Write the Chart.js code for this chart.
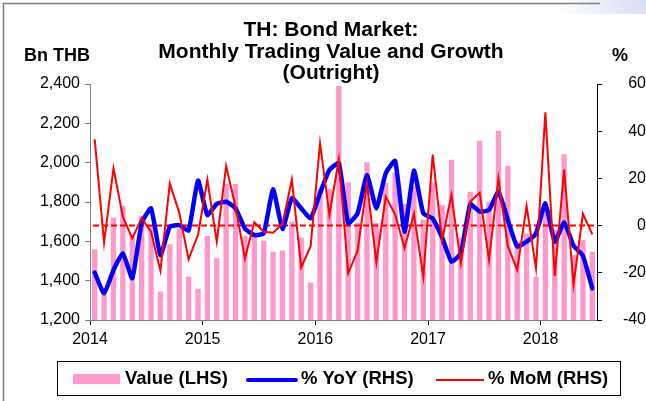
<!DOCTYPE html>
<html><head><meta charset="utf-8">
<script src="https://cdn.jsdelivr.net/npm/chart.js@4/dist/chart.umd.min.js"></script>
<style>html,body{margin:0;padding:0;background:#fff}#wrap{width:646px;height:401px;position:relative}</style>
</head><body><div id="wrap"><canvas id="c" width="646" height="401"></canvas></div>
<script>
const categories = ['Jan-14','Feb-14','Mar-14','Apr-14','May-14','Jun-14','Jul-14','Aug-14','Sep-14','Oct-14','Nov-14','Dec-14',
  'Jan-15','Feb-15','Mar-15','Apr-15','May-15','Jun-15','Jul-15','Aug-15','Sep-15','Oct-15','Nov-15','Dec-15',
  'Jan-16','Feb-16','Mar-16','Apr-16','May-16','Jun-16','Jul-16','Aug-16','Sep-16','Oct-16','Nov-16','Dec-16',
  'Jan-17','Feb-17','Mar-17','Apr-17','May-17','Jun-17','Jul-17','Aug-17','Sep-17','Oct-17','Nov-17','Dec-17',
  'Jan-18','Feb-18','Mar-18','Apr-18','May-18','Jun-18'];
const yearLabels = ['2014','2015','2016','2017','2018'];
const valueLHS = [1560,1350,1720,1780,1630,1730,1680,1345,1585,1665,1420,1358,
  1627,1514,1892,1891,1628,1640,1603,1547,1554,1700,1620,1390,
  1865,1866,2390,1900,1695,2002,1693,1897,1950,1790,1880,1710,
  1900,1785,2015,1620,1852,2110,1800,2162,1984,1600,1640,1420,
  1790,1660,2043,1530,1607,1547];
const yoyRHS = [-19.9,-28.7,-18.8,-11.7,-22.3,1.0,7.3,-12.5,-0.5,0.2,-2.0,19.1,
  4.5,9.2,10.1,7.3,-1.2,-4.0,-3.3,15.4,-1.4,11.6,7.3,3.1,
  13.7,23.6,26.4,1.0,5.2,21.4,7.3,22.2,27.4,-2.6,23.3,5.2,
  3.0,-5.0,-15.3,-11.7,9.0,5.9,6.6,14.3,2.4,-8.9,-6.8,-3.3,
  9.4,-6.8,1.3,-8.5,-12.8,-26.6];
const momRHS = [36.6,-7.2,24.3,3.8,-5.4,3.1,-2.6,-19.1,17.9,5.5,-14.2,-4.0,
  19.5,-6.8,25.3,8.0,-13.9,1.4,-2.6,-3.0,0.7,19.5,-17.7,-8.7,
  34.9,4.5,28.1,-20.2,-10.7,17.9,-15.5,12.3,4.8,-9.6,5.0,-21.6,
  30.1,-6.1,13.0,-16.0,10.1,14.0,-14.6,20.0,-8.6,-18.8,8.3,-18.1,
  48.0,-21.3,23.7,-25.0,5.0,-3.7];
const titleLines = ['TH: Bond Market:','Monthly Trading Value and Growth','(Outright)'];
const leftAxisTitle = 'Bn THB';
const rightAxisTitle = '%';

const FONT = "'Liberation Sans', Arial, sans-serif";

const decorPlugin = {
  id: 'decor',
  beforeDraw(chart) {
    const ctx = chart.ctx;
    ctx.save();
    ctx.fillStyle = '#fff';
    ctx.fillRect(0, 0, chart.width, chart.height);
    // faint corner decoration
    const g = ctx.createRadialGradient(646, -10, 5, 646, -10, 90);
    g.addColorStop(0, 'rgba(205,218,240,0.9)');
    g.addColorStop(1, 'rgba(205,218,240,0)');
    ctx.fillStyle = g;
    ctx.fillRect(540, 0, 106, 14);
    // frame
    ctx.strokeStyle = '#808080';
    ctx.lineWidth = 1.5;
    ctx.beginPath();
    ctx.moveTo(3.5, 401); ctx.lineTo(3.5, 3.5); ctx.lineTo(600, 3.5);
    ctx.stroke();
    ctx.restore();
  },
  afterDatasetDraw(chart, args) {
    if (args.meta.type !== 'bar') return;
    const ctx = chart.ctx, a = chart.chartArea;
    const y = chart.scales.yR.getPixelForValue(0);
    ctx.save();
    ctx.strokeStyle = '#ff0000';
    ctx.lineWidth = 2;
    ctx.setLineDash([6, 3]);
    ctx.beginPath();
    ctx.moveTo(a.left + 3, y); ctx.lineTo(a.right - 3, y);
    ctx.stroke();
    ctx.restore();
  },
  afterDraw(chart) {
    const ctx = chart.ctx;
    ctx.save();
    ctx.fillStyle = '#000';
    ctx.textBaseline = 'middle';
    ctx.textAlign = 'center';
    ctx.font = 'bold 21px ' + FONT;
    const ty = [30, 52, 73];
    titleLines.forEach((t, i) => ctx.fillText(t, 331, ty[i]));
    ctx.font = 'bold 18px ' + FONT;
    ctx.textAlign = 'left';
    ctx.fillText(leftAxisTitle, 24, 56);
    ctx.fillText(rightAxisTitle, 612, 56);
    // legend
    ctx.strokeStyle = '#000';
    ctx.lineWidth = 1;
    ctx.strokeRect(57.5, 361.5, 563, 34);
    const ds = chart.data.datasets;
    const ly = 379;
    ctx.font = 'bold 18.5px ' + FONT;
    // bars item
    ctx.fillStyle = ds[0].backgroundColor;
    ctx.fillRect(73, ly - 5, 47, 10);
    ctx.fillStyle = '#000';
    ctx.fillText(ds[0].label, 125, ly);
    // yoy
    ctx.strokeStyle = ds[1].borderColor;
    ctx.lineWidth = 4;
    ctx.lineCap = 'round';
    ctx.beginPath(); ctx.moveTo(248, ly + 1); ctx.lineTo(296, ly + 1); ctx.stroke();
    ctx.fillText(ds[1].label, 301, ly);
    // mom
    ctx.strokeStyle = ds[2].borderColor;
    ctx.lineWidth = 2;
    ctx.lineCap = 'butt';
    ctx.beginPath(); ctx.moveTo(436, ly + 1); ctx.lineTo(484, ly + 1); ctx.stroke();
    ctx.fillText(ds[2].label, 488, ly);
    ctx.restore();
  }
};

new Chart(document.getElementById('c'), {
  data: {
    labels: categories,
    datasets: [
      { type: 'bar', label: 'Value (LHS)', data: valueLHS, backgroundColor: '#FF99CC', borderWidth: 0,
        yAxisID: 'yL', xAxisID: 'x', barPercentage: 0.57, categoryPercentage: 1.0, order: 4 },
      { type: 'line', label: '% YoY (RHS)', data: yoyRHS, borderColor: '#0000FF', borderWidth: 4.5,
        pointRadius: 0, tension: 0.15, yAxisID: 'yR', xAxisID: 'x', borderJoinStyle: 'round', borderCapStyle: 'round', order: 2 },
      { type: 'line', label: '% MoM (RHS)', data: momRHS, borderColor: '#FF0000', borderWidth: 2,
        pointRadius: 0, tension: 0, yAxisID: 'yR', xAxisID: 'x', borderJoinStyle: 'miter', order: 1 }
    ]
  },
  options: {
    responsive: false,
    animation: false,
    devicePixelRatio: 1,
    layout: { padding: { top: 84, left: 0, right: 0, bottom: 0 } },
    plugins: { legend: { display: false }, tooltip: { enabled: false }, title: { display: false } },
    scales: {
      x: { type: 'category', display: false, offset: true },
      xYear: {
        type: 'linear', position: 'bottom', min: 0, max: categories.length,
        afterBuildTicks(s) { s.ticks = yearLabels.map((_, k) => ({ value: k * 12 })); },
        afterFit(s) { s.height = 81; },
        ticks: { callback: (v) => yearLabels[Math.round(v / 12)], font: { family: FONT, size: 16 }, color: '#000',
          padding: 5, maxRotation: 0, autoSkip: false },
        grid: { drawOnChartArea: false, drawTicks: true, tickLength: 5, color: '#000' },
        border: { display: true, color: '#808080', width: 1 }
      },
      yL: {
        type: 'linear', position: 'left', min: 1200, max: 2400,
        afterFit(s) { s.width = 90; },
        ticks: { stepSize: 200, callback: (v) => v.toLocaleString('en-US'), font: { family: FONT, size: 16 }, color: '#000', padding: 5 },
        grid: { drawOnChartArea: false, drawTicks: true, tickLength: 5, color: '#808080' },
        border: { display: true, color: '#808080', width: 1 }
      },
      yR: {
        type: 'linear', position: 'right', min: -40, max: 60,
        afterFit(s) { s.width = 49; },
        ticks: { stepSize: 20, font: { family: FONT, size: 16 }, color: '#000', padding: 4, crossAlign: 'far' },
        grid: { drawOnChartArea: false, drawTicks: true, tickLength: 5, color: '#000' },
        border: { display: true, color: '#000', width: 1 }
      }
    }
  },
  plugins: [decorPlugin]
});
</script>
</body></html>
